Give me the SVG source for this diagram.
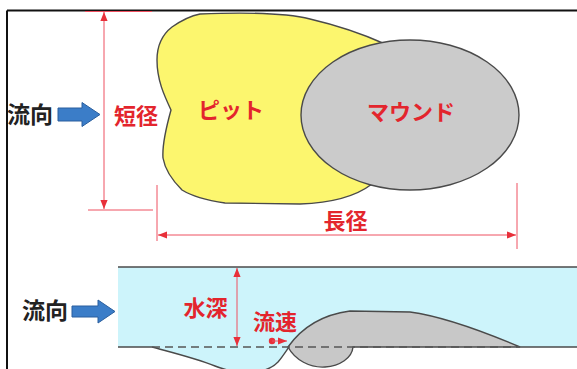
<svg xmlns="http://www.w3.org/2000/svg" width="577" height="369" viewBox="0 0 577 369">
  <style>
    .lbl { font-family: "Noto Sans CJK JP", "Noto Sans", sans-serif; font-size: 22px; font-weight: bold; fill: #e3252d; }
    .blk { font-family: "Noto Sans CJK JP", "Noto Sans", sans-serif; font-size: 23px; font-weight: bold; fill: #222; }
    .dim { stroke: #ee5060; stroke-width: 1; fill: none; }
    .flow { fill: #3b7dc8; stroke: #2a5f9e; stroke-width: 1; }
    .edge { stroke: #4a4a4a; stroke-width: 1.4; }
  </style>
  <defs>
    <marker id="ah" viewBox="0 0 10 10" refX="10" refY="5" markerWidth="9" markerHeight="9" markerUnits="userSpaceOnUse" orient="auto-start-reverse">
      <path d="M0,1 L10,5 L0,9 Z" fill="#e8303a"/>
    </marker>
  </defs>

  <rect width="577" height="369" fill="#fff"/>

  <!-- frame -->
  <g id="frame" stroke="#111" stroke-width="2" fill="none">
    <line x1="7" y1="10.5" x2="577" y2="10.5"/>
    <line x1="7" y1="10.5" x2="7" y2="369"/>
  </g>

  <!-- plan view -->
  <g id="pit">
    <path class="edge" fill="#fcf66e" d="M200,14 C250,12 290,14 310,19 C340,26 365,35 385,44 L390,150 L372,184 C355,197 330,203 300,204 L225,203 C205,200 190,195 182,190 C172,180 165,170 163,158 C162,145 166,128 171,110 C164,95 157,80 157,60 C157,45 163,34 172,27 C182,20 190,16 200,14 Z"/>
    <text class="lbl" x="231" y="118" text-anchor="middle" font-size="20">ピット</text>
  </g>
  <g id="mound">
    <ellipse class="edge" cx="410" cy="115" rx="109" ry="75" fill="#cbcbcb"/>
    <text class="lbl" x="411" y="120" text-anchor="middle" font-size="21">マウンド</text>
  </g>

  <g id="flow-top">
    <text class="blk" x="7" y="123">流向</text>
    <path class="flow" d="M58,108 L82,108 L82,102.5 L100,114.5 L82,126.5 L82,121 L58,121 Z"/>
  </g>

  <g id="connectors">
    <!-- short diameter -->
    <line class="dim" x1="85" y1="11.5" x2="152" y2="11.5"/>
    <line class="dim" x1="88" y1="210" x2="153" y2="210"/>
    <line class="dim" x1="104" y1="12" x2="104" y2="209" marker-start="url(#ah)" marker-end="url(#ah)"/>
    <!-- long diameter -->
    <line class="dim" x1="157" y1="185" x2="157" y2="241"/>
    <line class="dim" x1="517" y1="183" x2="517" y2="249"/>
    <line class="dim" x1="158" y1="235" x2="516" y2="235" marker-start="url(#ah)" marker-end="url(#ah)"/>
  </g>
  <text class="lbl" x="136" y="124" text-anchor="middle">短径</text>
  <text class="lbl" x="345.5" y="229" text-anchor="middle">長径</text>

  <!-- section view -->
  <g id="water">
    <rect x="118" y="267" width="459" height="80" fill="#cdf4fb"/>
    <path class="edge" fill="#cdf4fb" d="M152,347 C170,352 195,358 215,366 C235,374 265,376 278,362 C283,356 286,351 291,344"/>
    <line class="edge" x1="118" y1="267" x2="577" y2="267"/>
    <line class="edge" x1="118" y1="347" x2="152" y2="347"/>
    <line class="edge" x1="520" y1="347" x2="577" y2="347"/>
  </g>
  <g id="mound-section">
    <path class="edge" fill="#c8c8c8" d="M288,347 C300,330 320,315 350,311 L410,312 C440,316 480,330 520,347 L353,347 C352,358 340,366 325,367 C310,368 295,360 288,347 Z"/>
    <line x1="152" y1="347" x2="520" y2="347" stroke="#555" stroke-width="1.6" stroke-dasharray="8 5"/>
  </g>

  <g id="flow-bottom">
    <text class="blk" x="22" y="319">流向</text>
    <path class="flow" d="M72,306 L98,306 L98,300 L115,311.5 L98,323 L98,317 L72,317 Z"/>
  </g>

  <g id="section-connectors">
    <line class="dim" x1="237" y1="268" x2="237" y2="346" marker-start="url(#ah)" marker-end="url(#ah)"/>
    <circle cx="272" cy="341" r="3.2" fill="#e8303a"/>
    <line class="dim" x1="272" y1="341" x2="287" y2="341" marker-end="url(#ah)"/>
  </g>
  <text class="lbl" x="205.5" y="316" text-anchor="middle">水深</text>
  <text class="lbl" x="275" y="330" text-anchor="middle">流速</text>
</svg>
